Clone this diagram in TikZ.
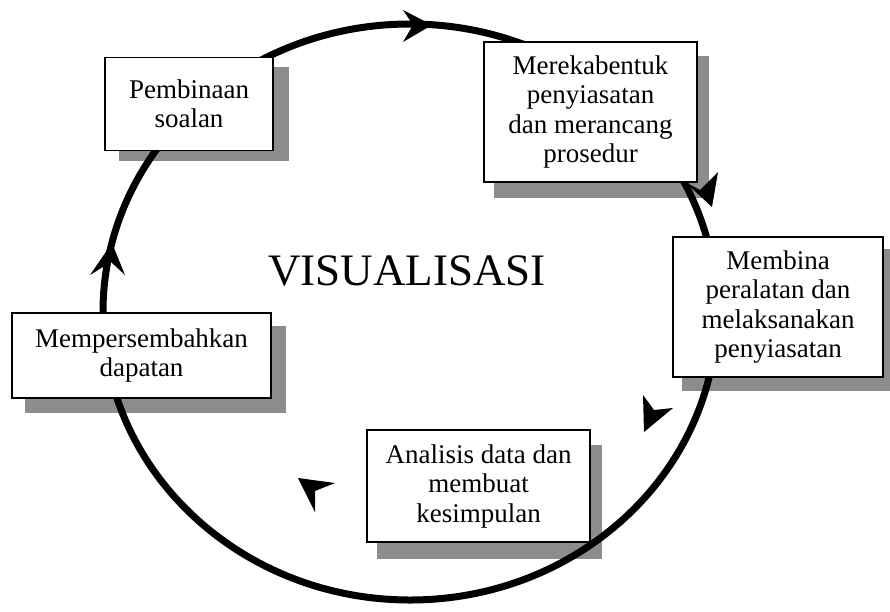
\documentclass[tikz,border=0pt]{standalone}
\usepackage{fontspec}
\setmainfont{Liberation Serif}
\usetikzlibrary{backgrounds}
\begin{document}
\begin{tikzpicture}[x=1pt,y=-1pt,
  stagebox/.style={draw=black, line width=1.2pt, fill=white, align=center, inner sep=2pt, font=\fontsize{27}{29.5}\selectfont},
  shadowfill/.style={fill=black!45},
  ring/.style={line width=7pt},
  dart/.style={fill=black},
  titletext/.style={font=\fontsize{45}{50}\selectfont, inner sep=0pt}]
\useasboundingbox (0,0) rectangle (890,611);
\node[stagebox, minimum width=168pt, minimum height=93pt] (b1) at (189,104) {Pembinaan\\soalan};
\node[stagebox, minimum width=213pt, minimum height=140pt] (b2) at (590.5,112) {Merekabentuk\\penyiasatan\\dan merancang\\prosedur};
\node[stagebox, minimum width=210pt, minimum height=140pt] (b3) at (778,307) {Membina\\peralatan dan\\melaksanakan\\penyiasatan};
\node[stagebox, minimum width=223pt, minimum height=112pt] (b4) at (478.5,486) {Analisis data dan\\membuat\\kesimpulan};
\node[stagebox, minimum width=259pt, minimum height=85pt] (b5) at (141.5,355.5) {Mempersembahkan\\dapatan};
\node[titletext] (title) at (407,271) {VISUALISASI};
\begin{pgfonlayer}{background}
\fill[shadowfill] ([shift={(15,10)}]b1.north west) rectangle ([shift={(15,10)}]b1.south east);
\fill[shadowfill] ([shift={(11,15)}]b2.north west) rectangle ([shift={(11,15)}]b2.south east);
\fill[shadowfill] ([shift={(10,13)}]b3.north west) rectangle ([shift={(10,13)}]b3.south east);
\fill[shadowfill] ([shift={(11,16)}]b4.north west) rectangle ([shift={(11,16)}]b4.south east);
\fill[shadowfill] ([shift={(14,14)}]b5.north west) rectangle ([shift={(14,14)}]b5.south east);
\draw[ring] (410,312) ellipse [x radius=307pt, y radius=288pt];
\end{pgfonlayer}
\fill[dart] (432,25) -- (403,10) -- (413,25) -- (403,42) -- cycle;
\fill[dart] (712,207) -- (685,182) -- (700,190) -- (718,172) -- cycle;
\fill[dart] (644,432) -- (643,395) -- (654,410) -- (673,408) -- cycle;
\fill[dart] (298,478) -- (335,483) -- (315,491) -- (315,512) -- cycle;
\fill[dart] (112,243) -- (90,275) -- (111,262) -- (125,275) -- cycle;
\end{tikzpicture}
\end{document}
